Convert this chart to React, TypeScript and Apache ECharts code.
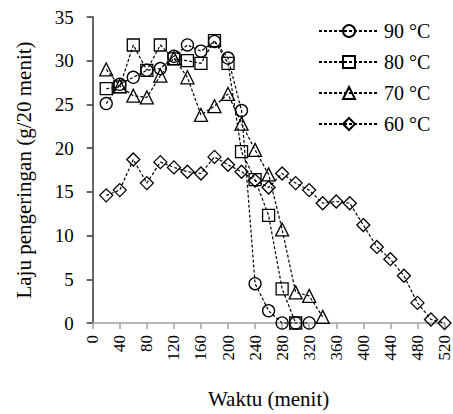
import React, { useEffect, useRef } from "react";
import * as echarts from "echarts";

const times = [20, 40, 60, 80, 100, 120, 140, 160, 180, 200, 220, 240, 260, 280, 300, 320, 340, 360, 380, 400, 420, 440, 460, 480, 500, 520];
const seriesNames = ["90 °C", "80 °C", "70 °C", "60 °C"];
const values90 = [25.1, 27.3, 28.1, 28.9, 29.1, 30.5, 31.8, 31.1, 32.2, 30.3, 24.3, 4.5, 1.4, 0, 0, 0];
const values80 = [26.8, 27.0, 31.8, 28.9, 31.8, 30.2, 30.0, 29.7, 32.3, 29.7, 19.6, 16.4, 12.3, 3.9, 0];
const values70 = [29.0, 27.1, 26.0, 25.8, 28.3, 30.3, 28.1, 23.8, 24.8, 26.2, 22.8, 19.8, 17.0, 10.7, 3.5, 3.1, 0.7];
const values60 = [14.6, 15.2, 18.7, 16.0, 18.4, 17.8, 17.3, 17.1, 19.0, 18.1, 17.3, 16.3, 15.5, 17.1, 16.0, 15.2, 13.7, 13.9, 13.7, 11.2, 8.7, 7.3, 5.4, 2.3, 0.4, 0];
const symbols = ["circle", "rect", "triangle", "diamond"];
const symbolSizes = [12, 12, 13, 13];

const FONT = "Times New Roman, Liberation Serif, DejaVu Serif, serif";

export default function App() {
  const ref = useRef<HTMLDivElement>(null);
  useEffect(() => {
    if (!ref.current) return;
    const chart = echarts.init(ref.current, undefined, { renderer: "svg" });
    const all = [values90, values80, values70, values60];
    chart.setOption({
      animation: false,
      textStyle: { fontFamily: FONT, color: "#000" },
      grid: { left: 92.7, right: 2, top: 17, bottom: 89, containLabel: false },
      legend: {
        orient: "vertical",
        left: 313,
        top: 16,
        itemWidth: 60,
        itemHeight: 15,
        itemGap: 11,
        textStyle: { fontFamily: FONT, fontSize: 20, lineHeight: 20, color: "#000" },
        data: seriesNames,
      },
      xAxis: {
        type: "value",
        min: 0,
        max: 520,
        interval: 40,
        name: "Waktu (menit)",
        nameLocation: "middle",
        nameGap: 65,
        nameTextStyle: { fontFamily: FONT, fontSize: 21, color: "#000" },
        splitLine: { show: false },
        axisLine: { show: true, lineStyle: { color: "#a0a0a0", width: 1.5 } },
        axisTick: { show: true, length: 6, lineStyle: { color: "#a0a0a0", width: 1.5 } },
        axisLabel: { rotate: 90, margin: 12, fontFamily: FONT, fontSize: 17, color: "#000" },
      },
      yAxis: {
        type: "value",
        min: 0,
        max: 35,
        interval: 5,
        name: "Laju pengeringan (g/20 menit)",
        nameLocation: "middle",
        nameGap: 58,
        nameTextStyle: { fontFamily: FONT, fontSize: 21, color: "#000" },
        splitLine: { show: false },
        axisLine: { show: true, lineStyle: { color: "#333", width: 1.5 } },
        axisTick: { show: true, length: 6, lineStyle: { color: "#333", width: 1.5 } },
        axisLabel: { margin: 19, fontFamily: FONT, fontSize: 19, color: "#000" },
      },
      series: all.map((vals, i) => ({
        name: seriesNames[i],
        type: "line",
        data: vals.map((v, j) => [times[j], v]),
        symbol: symbols[i],
        symbolSize: symbolSizes[i],
        showAllSymbol: true,
        clip: false,
        lineStyle: { color: "#000", width: 1.2, type: [3, 2] },
        itemStyle: { color: "rgba(255,255,255,0)", borderColor: "#000", borderWidth: 1.3 },
        emphasis: { disabled: true },
      })),
    });
    return () => chart.dispose();
  }, []);
  return (
    <div style={{ position: "absolute", left: 0, top: 0 }}>
      <div ref={ref} style={{ width: 453, height: 414 }} />
    </div>
  );
}
